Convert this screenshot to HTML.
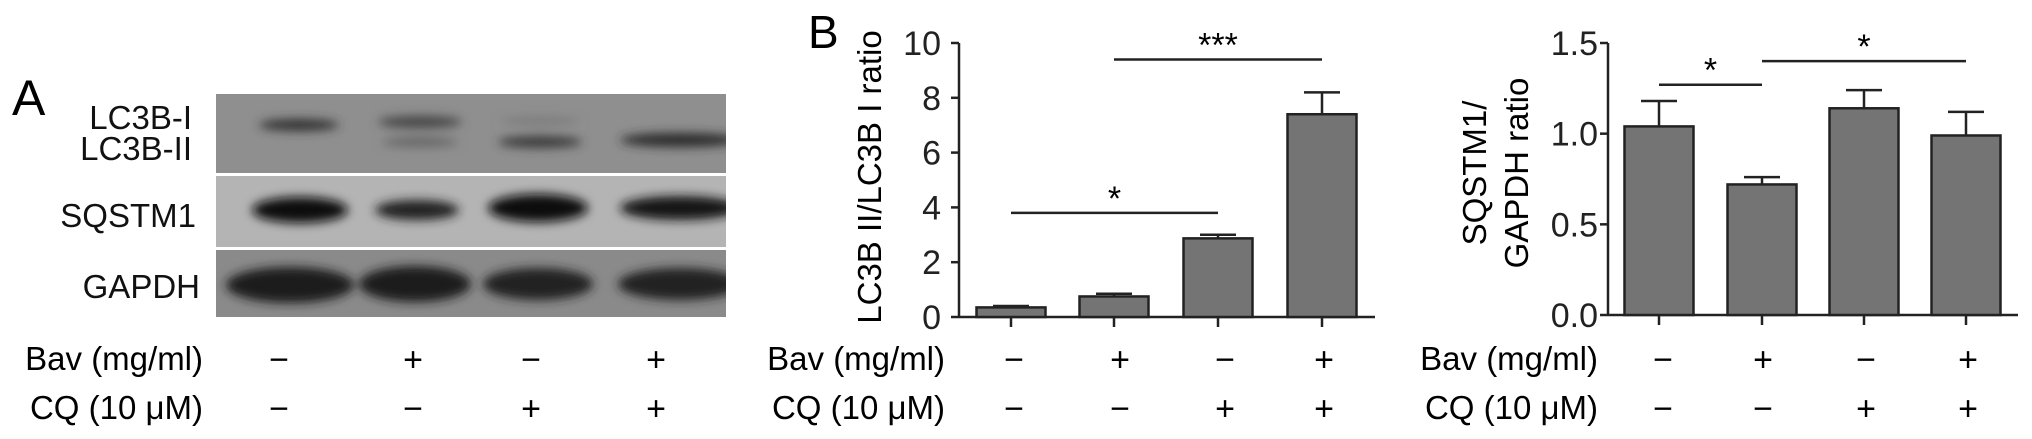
<!DOCTYPE html>
<html><head><meta charset="utf-8"><style>
html,body{margin:0;padding:0;background:#fff;}
svg{display:block;font-family:"Liberation Sans",Arial,sans-serif;}
</style></head><body>
<svg id="fig" width="2032" height="439" viewBox="0 0 2032 439" xmlns="http://www.w3.org/2000/svg">
<defs>
<filter id="blur" x="-20%" y="-50%" width="140%" height="200%"><feGaussianBlur stdDeviation="5"/></filter>
<clipPath id="blotclip"><rect x="216" y="94" width="510" height="223"/></clipPath>
</defs>
<g>
  <text x="12" y="115" font-size="50">A</text>
  <rect x="216" y="94" width="510" height="79" fill="#8f8f8f"/>
  <rect x="216" y="176" width="510" height="71" fill="#b4b4b4"/>
  <rect x="216" y="250" width="510" height="67" fill="#8a8a8a"/>
  <g filter="url(#blur)" clip-path="url(#blotclip)">
    <ellipse cx="299" cy="125" rx="40" ry="6" fill="#333"/>
    <ellipse cx="420" cy="122" rx="42" ry="6" fill="#444"/>
    <ellipse cx="420" cy="142" rx="38" ry="5" fill="#666"/>
    <ellipse cx="540" cy="121" rx="40" ry="4" fill="#7a7a7a"/>
    <ellipse cx="540" cy="142" rx="42" ry="6" fill="#3a3a3a"/>
    <ellipse cx="680" cy="140" rx="60" ry="7" fill="#2a2a2a"/>
    <ellipse cx="300" cy="210" rx="48" ry="13" fill="#111"/>
    <ellipse cx="417" cy="210" rx="42" ry="10" fill="#222"/>
    <ellipse cx="538" cy="208" rx="50" ry="14" fill="#111"/>
    <ellipse cx="680" cy="208" rx="60" ry="12" fill="#151515"/>
    <ellipse cx="290" cy="285" rx="64" ry="18" fill="#1a1a1a"/>
    <ellipse cx="415" cy="284" rx="56" ry="18" fill="#1a1a1a"/>
    <ellipse cx="538" cy="284" rx="55" ry="16" fill="#222"/>
    <ellipse cx="680" cy="284" rx="62" ry="16" fill="#222"/>
  </g>
  <g font-size="33" text-anchor="end" fill="#111">
    <text x="192" y="129">LC3B-I</text>
    <text x="192" y="160">LC3B-II</text>
    <text x="196" y="227">SQSTM1</text>
    <text x="200" y="298">GAPDH</text>
  </g>
  <g id="treatA"></g>
</g>
<g id="chartB">
  <text x="808" y="48" font-size="46">B</text>
</g>
<g id="chartC"></g>
</svg>
<script>
const categories = ['Ctrl', 'Bav', 'CQ', 'Bav+CQ'];
const bavSigns = ['−', '+', '−', '+'];
const cqSigns = ['−', '−', '+', '+'];
const lc3Values = [0.35, 0.75, 2.87, 7.4];
const lc3Errors = [0.05, 0.1, 0.13, 0.8];
const lc3Ticks = [0, 2, 4, 6, 8, 10];
const lc3TickLabels = ['0', '2', '4', '6', '8', '10'];
const sqValues = [1.04, 0.72, 1.14, 0.99];
const sqErrors = [0.14, 0.04, 0.1, 0.13];
const sqTicks = [0, 0.5, 1.0, 1.5];
const sqTickLabels = ['0.0', '0.5', '1.0', '1.5'];
const lc3Sig = [[0, 2, 3.8, '*'], [1, 3, 9.4, '***']];
const sqSig = [[0, 1, 1.27, '*'], [1, 3, 1.4, '*']];

const NS = 'http://www.w3.org/2000/svg';
function mk(parent, tag, attrs, txt) {
  const e = document.createElementNS(NS, tag);
  for (const k in attrs) e.setAttribute(k, attrs[k]);
  if (txt !== undefined) e.textContent = txt;
  parent.appendChild(e);
  return e;
}

function signs(g, labelRight, xs) {
  let t = mk(g, 'text', {x: labelRight, y: 370, 'font-size': 33, 'text-anchor': 'end'}, 'Bav (mg/ml)');
  
  
  t = mk(g, 'text', {x: labelRight, y: 419, 'font-size': 33, 'text-anchor': 'end'}, 'CQ (10 μM)');
  
  
  categories.forEach((c, i) => {
    let s = mk(g, 'text', {x: xs[i], y: 371, 'font-size': 34, 'text-anchor': 'middle'}, bavSigns[i]);
    
    
    s = mk(g, 'text', {x: xs[i], y: 420, 'font-size': 34, 'text-anchor': 'middle'}, cqSigns[i]);
    
    
  });
}

signs(document.getElementById('treatA'), 203, [279, 413, 531, 656]);

function chart(g, o) {
  const y = v => o.y0 - (v - o.min) / (o.max - o.min) * (o.y0 - o.y1);
  const x = i => o.cx[i];
  let a = mk(g, 'line', {x1: o.ax, y1: o.y1, x2: o.ax, y2: o.y0 + 1, stroke: '#222', 'stroke-width': 2.5});
  
  
  a = mk(g, 'line', {x1: o.ax, y1: o.y0, x2: o.xEnd, y2: o.y0, stroke: '#222', 'stroke-width': 2.5});
  
  
  o.ticks.forEach((t, i) => {
    const tk = mk(g, 'line', {x1: o.ax - 8, y1: y(t), x2: o.ax, y2: y(t), stroke: '#222', 'stroke-width': 2.5});
    
    
    const tl = mk(g, 'text', {x: o.tlRight, y: y(t) + 12, 'font-size': 34, 'text-anchor': 'end', fill: '#222'}, o.tickLabels[i]);
    
    
  });
  o.values.forEach((v, i) => {
    const xt = mk(g, 'line', {x1: x(i), y1: o.y0, x2: x(i), y2: o.y0 + 10, stroke: '#222', 'stroke-width': 2.5});
    
    
    const e = o.errors[i];
    const el = mk(g, 'line', {x1: x(i), y1: y(v), x2: x(i), y2: y(v + e), stroke: '#222', 'stroke-width': 2.5});
    
    
    const ec = mk(g, 'line', {x1: x(i) - 18, y1: y(v + e), x2: x(i) + 18, y2: y(v + e), stroke: '#222', 'stroke-width': 2.5});
    
    
    const b = mk(g, 'rect', {x: x(i) - o.bw / 2, y: y(v), width: o.bw, height: o.y0 - y(v), fill: '#747474', stroke: '#222', 'stroke-width': 2.5});
    
    
  });
  o.sig.forEach(s => {
    const l = mk(g, 'line', {x1: x(s[0]), y1: y(s[2]), x2: x(s[1]), y2: y(s[2]), stroke: '#222', 'stroke-width': 2.5});
    
    
    const st = mk(g, 'text', {x: (x(s[0]) + x(s[1])) / 2, y: y(s[2]) - 3, 'font-size': 34, 'text-anchor': 'middle'}, s[3]);
    
    
  });
  signs(g, o.labelRight, o.signX);
}

const gB = document.getElementById('chartB');
chart(gB, {ax: 959, xEnd: 1375, y0: 317, y1: 43, min: 0, max: 10, cx: [1011, 1114, 1218, 1322], bw: 69,
  tlRight: 941, ticks: lc3Ticks, tickLabels: lc3TickLabels, values: lc3Values, errors: lc3Errors, sig: lc3Sig,
  labelRight: 945, signX: [1014, 1120, 1225, 1324]});
let yt = mk(gB, 'text', {x: 0, y: 0, 'font-size': 33, 'text-anchor': 'middle', transform: 'translate(881,177) rotate(-90)'}, 'LC3B II/LC3B I ratio');



const gC = document.getElementById('chartC');
chart(gC, {ax: 1608, xEnd: 2018, y0: 315, y1: 43, min: 0, max: 1.5, cx: [1659, 1762, 1864, 1966], bw: 69,
  tlRight: 1598, ticks: sqTicks, tickLabels: sqTickLabels, values: sqValues, errors: sqErrors, sig: sqSig,
  labelRight: 1598, signX: [1663, 1763, 1866, 1968]});
yt = mk(gC, 'text', {x: 0, y: 0, 'font-size': 33, 'text-anchor': 'middle', transform: 'translate(1486,173) rotate(-90)'}, 'SQSTM1/');


yt = mk(gC, 'text', {x: 0, y: 0, 'font-size': 33, 'text-anchor': 'middle', transform: 'translate(1528,173) rotate(-90)'}, 'GAPDH ratio');


</script>
</body></html>
